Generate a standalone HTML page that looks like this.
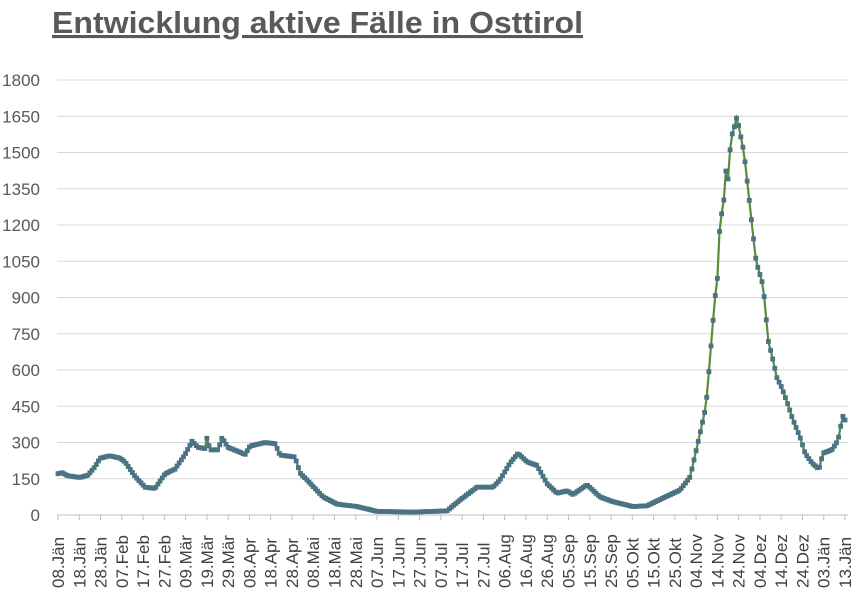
<!DOCTYPE html><html><head><meta charset="utf-8"><style>
body{margin:0;background:#fff;width:861px;height:592px;overflow:hidden;font-family:"Liberation Sans",sans-serif}
</style></head><body>
<svg id="s" width="861" height="592" xmlns="http://www.w3.org/2000/svg" font-family="Liberation Sans, sans-serif">
<text x="52" y="33" font-size="31" font-weight="bold" fill="#595959" text-decoration="underline" textLength="531" lengthAdjust="spacingAndGlyphs">Entwicklung aktive Fälle in Osttirol</text>
<g id="g"></g>
</svg>
<script>
const g=document.getElementById('g');let h='';
const X0=58,DX=(845-58)/370,Y0=515,K=435/1800;
for(let i=0;i<=12;i++){const v=i*150,y=Y0-v*K;
 if(i>0)h+=`<line x1="57" x2="848" y1="${y}" y2="${y}" stroke="#d9d9d9"/>`;
 h+=`<text x="40" y="${y+6}" font-size="17" fill="#595959" text-anchor="end">${v}</text>`;}
h+=`<line x1="57" x2="848" y1="515" y2="515" stroke="#bfbfbf"/>`;
const labs=["08.Jän","18.Jän","28.Jän","07.Feb","17.Feb","27.Feb","09.Mär","19.Mär","29.Mär","08.Apr","18.Apr","28.Apr","08.Mai","18.Mai","28.Mai","07.Jun","17.Jun","27.Jun","07.Jul","17.Jul","27.Jul","06.Aug","16.Aug","26.Aug","05.Sep","15.Sep","25.Sep","05.Okt","15.Okt","25.Okt","04.Nov","14.Nov","24.Nov","04.Dez","14.Dez","24.Dez","03.Jän","13.Jän"];
labs.forEach((l,i)=>{const x=X0+i*10*DX;
 h+=`<line x1="${x}" x2="${x}" y1="515" y2="520" stroke="#bfbfbf"/>`;
 h+=`<text transform="translate(${x+6},588) rotate(-90)" font-size="17" fill="#404040">${l}</text>`;});
const kp=[[57,170],[62,175],[68,162],[80,155],[88,165],[95,200],[100,235],[110,245],[120,235],[125,220],[135,160],[145,115],[155,110],[165,170],[175,190],[185,250],[192,305],[198,280],[205,275],[207,320],[210,270],[218,270],[222,320],[228,280],[240,260],[245,250],[250,285],[265,300],[275,295],[280,248],[295,240],[300,174],[307,145],[315,110],[323,75],[337,45],[357,35],[377,15],[413,12],[447,17],[460,62],[477,115],[493,115],[500,145],[510,215],[518,255],[527,220],[537,205],[547,130],[557,90],[567,100],[573,85],[587,125],[600,75],[613,55],[633,35],[647,38],[663,70],[680,103],[690,157],[698,300],[706,450],[710,650],[715,900],[718,1000],[720,1230],[723,1260],[726,1430],[728,1390],[731,1560],[734,1600],[737,1650],[740,1580],[744,1500],[748,1350],[752,1200],[756,1050],[763,952],[765,870],[768,725],[773,640],[777,567],[782,525],[787,468],[793,393],[800,323],[805,256],[812,215],[819,190],[823,256],[832,270],[837,302],[840,340],[842,414],[845,393]];
function val(x){for(let i=0;i<kp.length-1;i++){if(x>=kp[i][0]&&x<=kp[i+1][0]){const t=(x-kp[i][0])/(kp[i+1][0]-kp[i][0]);return kp[i][1]+t*(kp[i+1][1]-kp[i][1]);}}return kp[kp.length-1][1];}
let pts=[],m='';
for(let d=0;d<=370;d++){const x=X0+d*DX;const v=val(x);const y=Y0-v*K;pts.push(x.toFixed(1)+','+y.toFixed(1));
 m+=`<rect x="${(x-2.4).toFixed(1)}" y="${(y-2.4).toFixed(1)}" width="4.8" height="4.8" fill="#4a7383"/>`;}
h+=`<polyline points="${pts.join(' ')}" fill="none" stroke="#5b8c3a" stroke-width="2.2"/>`+m;
g.innerHTML=h;
</script>
</body></html>
